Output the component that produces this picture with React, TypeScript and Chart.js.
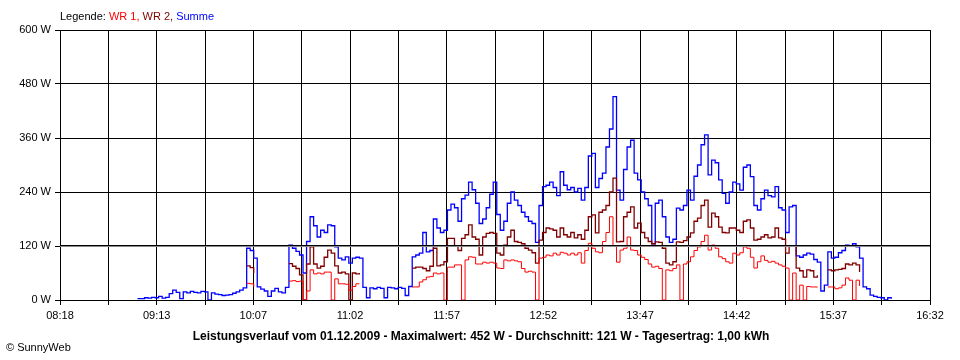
import React, { useEffect, useRef } from "react";
import { Chart, registerables } from "chart.js";

Chart.register(...registerables);

// ---- Data ----
const AXIS_START = "08:18";
const AXIS_END = "16:32";
const X_TICK_LABELS = ["08:18", "09:13", "10:07", "11:02", "11:57", "12:52", "13:47", "14:42", "15:37", "16:32"];
const Y_TICKS = [0, 120, 240, 360, 480, 600];
const FIRST_SAMPLE = "09:00";
const SAMPLE_STEP_MIN = 2;

// Summe (blue)
const summe: (number | null)[] = [
  null, 3, 3, 5, 4, 6, 5, 8, 4, 6,
  14, 22, 17, 3, 18, 16, 19, 17, 16, 19,
  18, 0, 16, 13, 12, 10, 11, 12, 15, 18,
  22, 27, 115, 110, 93, 29, 24, 20, 8, 20,
  26, 18, 16, 28, 122, 115, 108, 100, 60, 130,
  185, 165, 140, 155, 150, 167, 165, 118, 93, 89,
  96, 82, 93, 95, 93, 28, 5, 27, 25, 28,
  26, 5, 28, 27, 25, 28, 26, 10, 30, 96,
  100, 104, 150, 107, 110, 180, 160, 150, 155, 200,
  213, 205, 175, 225, 233, 262, 245, 215, 170, 180,
  205, 235, 262, 190, 155, 175, 215, 240, 222, 210,
  195, 185, 175, 170, 128, 210, 252, 255, 262, 250,
  232, 285, 255, 245, 250, 240, 248, 222, 250, 320,
  326, 250, 270, 282, 340, 380, 452, 244, 222, 290,
  340, 355, 282, 267, 240, 225, 210, 125, 215, 222,
  185, 140, 128, 135, 204, 200, 210, 244, 222, 275,
  300, 345, 367, 278, 311, 305, 267, 237, 215, 240,
  262, 258, 244, 295, 300, 274, 210, 200, 225, 244,
  232, 229, 252, 205, 200, 150, 207, 210, 98, 95,
  100, 104, 102, 90, 84, 20, 33, 107, 93, 95,
  105, 110, 122, 120, 125, 118, 93, 29, 25, 11,
  8, 6, 5, 0, 5, 3,
];

// WR 2 (dark red)
const wr2: (number | null)[] = [
  null, null, null, null, null, null, null, null, null, null,
  null, null, null, null, null, null, null, null, null, null,
  null, null, null, null, null, null, null, null, null, null,
  null, null, 76, 72, 60, null, null, null, null, null,
  null, null, null, null, 81, 75, 70, 56, 0, 80,
  118, 80, 71, 75, 95, 111, 104, 76, 60, 62,
  58, 0, 60, 58, 60, null, null, null, null, null,
  null, null, null, null, null, null, null, null, null, 71,
  73, 73, 70, 65, 75, 115, 76, 78, 85, 137,
  137, 120, 110, 137, 145, 167, 140, 135, 100, 140,
  148, 150, 148, 104, 100, 122, 140, 155, 130, 128,
  125, 115, 111, 105, 82, 133, 150, 160, 158, 155,
  140, 160, 145, 140, 150, 138, 145, 135, 155, 185,
  189, 149, 195, 200, 210, 240, 271, 129, 130, 185,
  195, 207, 160, 171, 150, 138, 130, 125, 129, 128,
  115, 82, 78, 85, 129, 128, 132, 140, 149, 175,
  182, 210, 222, 162, 193, 185, 162, 150, 149, 160,
  160, 155, 150, 175, 178, 160, 133, 135, 140, 145,
  138, 140, 160, 138, 135, 104, 120, 120, 71, 65,
  51, 67, 65, 51, 55, null, null, 67, 65, 67,
  68, 70, 80, 78, 82, 78, 62, null, null, null,
  null, null, null, null, null, null,
];

// WR 1 (red)
const wr1: (number | null)[] = [
  null, null, null, null, null, null, null, null, null, null,
  null, null, null, null, null, null, null, null, null, null,
  null, null, null, null, null, null, null, null, null, null,
  null, null, 37, 36, 29, null, null, null, null, null,
  null, null, null, null, 42, 43, 41, 42, 0, 20,
  67, 58, 60, 58, 62, 62, 0, 47, 36, 36,
  35, 22, 30, 36, 36, null, null, null, null, null,
  null, null, null, null, null, null, null, null, null, 29,
  29, 40, 45, 51, 52, 60, 58, 60, 0, 73,
  73, 78, 78, 0, 89, 96, 95, 80, 80, 84,
  82, 84, 82, 71, 70, 89, 87, 89, 87, 85,
  70, 62, 64, 62, 0, 93, 95, 100, 98, 104,
  100, 106, 104, 100, 104, 100, 105, 82, 110, 126,
  115, 107, 105, 130, 150, 185, 120, 84, 111, 115,
  140, 111, 110, 100, 95, 90, 80, 73, 75, 70,
  0, 67, 65, 70, 78, 0, 80, 85, 96, 110,
  118, 130, 144, 111, 122, 115, 96, 92, 85, 82,
  104, 100, 105, 118, 115, 95, 71, 85, 98, 88,
  84, 86, 82, 78, 75, 71, 0, 60, 0, 33,
  0, 30, 29, 29, 28, null, null, 29, 29, 25,
  27, 33, 49, 44, 0, 44, 31, null, null, null,
  null, null, null, null, null, null,
];

const TITLE = "Leistungsverlauf vom 01.12.2009 - Maximalwert: 452 W - Durchschnitt: 121 W - Tagesertrag: 1,00 kWh";
const COPYRIGHT = "\u00A9 SunnyWeb";

const COLOR_WR1 = "#ff0000";
const COLOR_WR2 = "#800000";
const COLOR_SUM = "#0000ff";

const toMin = (t: string) => {
  const [h, m] = t.split(":").map(Number);
  return h * 60 + m;
};

const SPAN = toMin(AXIS_END) - toMin(AXIS_START);
const OFFSET = toMin(FIRST_SAMPLE) - toMin(AXIS_START);

const toPoints = (arr: (number | null)[]) =>
  arr.map((v, i) => ({ x: OFFSET + i * SAMPLE_STEP_MIN, y: v }));

const FONT = '"Liberation Sans", Arial, sans-serif';

const textPlugin = {
  id: "sunnyText",
  afterDatasetsDraw(chart: any) {
    const { ctx, chartArea, scales } = chart;
    const y = Math.round(scales.y.getPixelForValue(120));
    ctx.save();
    ctx.fillStyle = "#000";
    ctx.fillRect(chartArea.left, y - 1, chartArea.right - chartArea.left, 1);
    ctx.fillStyle = "#8a8a8a";
    ctx.fillRect(chartArea.left, y, chartArea.right - chartArea.left, 1);
    ctx.restore();
  },
  afterDraw(chart: any) {
    const { ctx } = chart;
    ctx.save();
    ctx.font = `11px ${FONT}`;
    ctx.textBaseline = "middle";
    ctx.textAlign = "left";
    const parts: [string, string][] = [
      ["Legende: ", "#000"],
      ["WR 1, ", COLOR_WR1],
      ["WR 2, ", COLOR_WR2],
      ["Summe", COLOR_SUM],
    ];
    let x = 60;
    for (const [t, c] of parts) {
      ctx.fillStyle = c;
      ctx.fillText(t, x, 17);
      x += ctx.measureText(t).width;
    }
    ctx.fillStyle = "#000";
    ctx.font = `bold 12px ${FONT}`;
    ctx.textAlign = "center";
    ctx.fillText(TITLE, 481, 337);
    ctx.font = `11px ${FONT}`;
    ctx.textAlign = "left";
    ctx.fillText(COPYRIGHT, 6, 348);
    ctx.restore();
  },
};

export default function App() {
  const ref = useRef<HTMLCanvasElement | null>(null);
  useEffect(() => {
    if (!ref.current) return;
    const chart = new Chart(ref.current, {
      type: "line",
      data: {
        datasets: [
          {
            label: "WR 1",
            data: toPoints(wr1) as any,
            borderColor: COLOR_WR1,
            borderWidth: 1,
            pointRadius: 0,
            stepped: true,
            spanGaps: false,
            order: 1,
          },
          {
            label: "WR 2",
            data: toPoints(wr2) as any,
            borderColor: COLOR_WR2,
            borderWidth: 1.3,
            pointRadius: 0,
            stepped: true,
            spanGaps: false,
            order: 2,
          },
          {
            label: "Summe",
            data: toPoints(summe) as any,
            borderColor: COLOR_SUM,
            borderWidth: 1.3,
            pointRadius: 0,
            stepped: true,
            spanGaps: false,
            order: 3,
          },
        ],
      },
      options: {
        animation: false,
        responsive: false,
        devicePixelRatio: 1,
        layout: { padding: { top: 30, right: 30, left: 0, bottom: 0 } },
        plugins: { legend: { display: false }, tooltip: { enabled: false }, title: { display: false } },
        scales: {
          x: {
            type: "linear",
            min: 0,
            max: SPAN,
            afterBuildTicks: (scale: any) => {
              const n = (X_TICK_LABELS.length - 1) * 2;
              scale.ticks = Array.from({ length: n + 1 }, (_, i) => ({ value: (i * SPAN) / n }));
            },
            afterFit: (scale: any) => {
              scale.height = 60;
            },
            ticks: {
              autoSkip: false,
              maxRotation: 0,
              minRotation: 0,
              padding: 4,
              color: "#000",
              font: { family: FONT, size: 11 },
              callback: (_v: any, i: number) => (i % 2 === 0 ? X_TICK_LABELS[i / 2] : ""),
            },
            grid: { color: "#000", lineWidth: 1, tickLength: 5, drawTicks: true },
            border: { display: true, color: "#000" },
          },
          y: {
            min: 0,
            max: 600,
            afterBuildTicks: (scale: any) => {
              scale.ticks = Y_TICKS.map((v) => ({ value: v }));
            },
            afterFit: (scale: any) => {
              scale.width = 60;
            },
            ticks: {
              padding: 4,
              color: "#000",
              font: { family: FONT, size: 11 },
              callback: (v: any) => `${v} W`,
            },
            grid: { color: "#000", lineWidth: 1, tickLength: 5, drawTicks: true },
            border: { display: true, color: "#000" },
          },
        },
      },
      plugins: [textPlugin],
    });
    return () => chart.destroy();
  }, []);
  return (
    <div style={{ position: "fixed", left: 0, top: 0, width: 960, height: 360, background: "#fff" }}>
      <canvas ref={ref} width={960} height={360} style={{ width: 960, height: 360, display: "block" }} />
    </div>
  );
}
